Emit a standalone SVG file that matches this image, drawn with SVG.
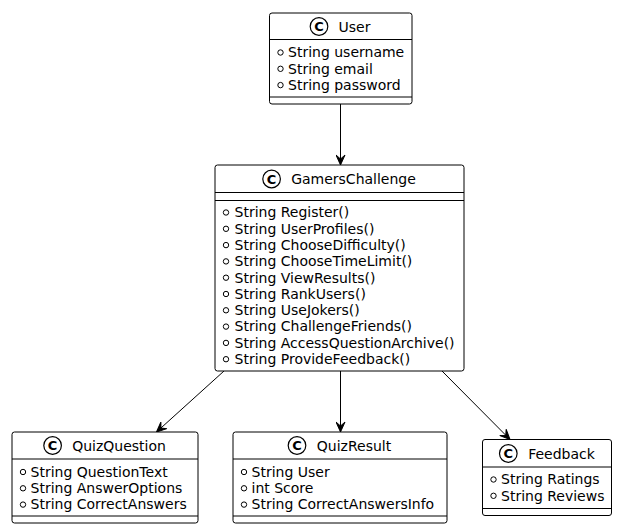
<svg xmlns="http://www.w3.org/2000/svg" width="618" height="530" viewBox="0 0 618 530">
<style>
text{font-family:"DejaVu Sans",sans-serif;font-size:14px;fill:#000}
.box{fill:#fff;stroke:#000;stroke-width:1}
.sep{stroke:#000;stroke-width:1}
.name{text-anchor:middle}
.ic{fill:#fff;stroke:#000;stroke-width:1.2}
.ict{font-size:13px;font-weight:bold;text-anchor:middle}
.vis{fill:none;stroke:#000;stroke-width:1}
.edge{stroke:#000;stroke-width:1;fill:none}
</style>
<defs>
<marker id="ah" viewBox="-11 -5 12 10" refX="0" refY="0" markerWidth="12" markerHeight="10" markerUnits="userSpaceOnUse" orient="auto">
<path d="M0,0 L-10,-4.5 L-6,0 L-10,4.5 Z" fill="#000" stroke="#000" stroke-width="1"/>
</marker>
</defs>
<g id="connectors">
<line class="edge" x1="340.5" y1="104" x2="340.5" y2="165" marker-end="url(#ah)"/>
<line class="edge" x1="224" y1="371" x2="156.5" y2="432" marker-end="url(#ah)"/>
<line class="edge" x1="340.5" y1="371" x2="340.5" y2="432" marker-end="url(#ah)"/>
<line class="edge" x1="442" y1="371" x2="510" y2="439.5" marker-end="url(#ah)"/>
</g>
<g id="User">
<rect class="box" x="269.5" y="13" width="142.5" height="91" rx="2.5"/>
<line class="sep" x1="269.5" y1="39.5" x2="412" y2="39.5"/>
<line class="sep" x1="269.5" y1="97" x2="412" y2="97"/>
<circle class="ic" cx="319" cy="26.5" r="8.8"/>
<text class="ict" x="319" y="31.2">C</text>
<text class="name" x="354.5" y="31.5">User</text>
<circle class="vis" cx="280.5" cy="52.5" r="2.7"/>
<text x="288" y="57.3">String username</text>
<circle class="vis" cx="280.5" cy="68.8" r="2.7"/>
<text x="288" y="73.6">String email</text>
<circle class="vis" cx="280.5" cy="85.1" r="2.7"/>
<text x="288" y="89.9">String password</text>
</g>
<g id="GamersChallenge">
<rect class="box" x="215" y="165" width="249" height="206" rx="2.5"/>
<line class="sep" x1="215" y1="192.5" x2="464" y2="192.5"/>
<line class="sep" x1="215" y1="200.5" x2="464" y2="200.5"/>
<circle class="ic" cx="271.6" cy="179" r="8.8"/>
<text class="ict" x="271.6" y="183.7">C</text>
<text class="name" x="353.5" y="184">GamersChallenge</text>
<g>
<circle class="vis" cx="226" cy="212.5" r="2.7"/><text x="234.5" y="217.3">String Register()</text>
<circle class="vis" cx="226" cy="228.8" r="2.7"/><text x="234.5" y="233.6">String UserProfiles()</text>
<circle class="vis" cx="226" cy="245.1" r="2.7"/><text x="234.5" y="249.9">String ChooseDifficulty()</text>
<circle class="vis" cx="226" cy="261.4" r="2.7"/><text x="234.5" y="266.2">String ChooseTimeLimit()</text>
<circle class="vis" cx="226" cy="277.7" r="2.7"/><text x="234.5" y="282.5">String ViewResults()</text>
<circle class="vis" cx="226" cy="294" r="2.7"/><text x="234.5" y="298.8">String RankUsers()</text>
<circle class="vis" cx="226" cy="310.3" r="2.7"/><text x="234.5" y="315.1">String UseJokers()</text>
<circle class="vis" cx="226" cy="326.6" r="2.7"/><text x="234.5" y="331.4">String ChallengeFriends()</text>
<circle class="vis" cx="226" cy="342.9" r="2.7"/><text x="234.5" y="347.7">String AccessQuestionArchive()</text>
<circle class="vis" cx="226" cy="359.2" r="2.7"/><text x="234.5" y="364">String ProvideFeedback()</text>
</g>
</g>
<g id="QuizQuestion">
<rect class="box" x="12" y="432" width="186" height="91" rx="2.5"/>
<line class="sep" x1="12" y1="459" x2="198" y2="459"/>
<line class="sep" x1="12" y1="516" x2="198" y2="516"/>
<circle class="ic" cx="52.6" cy="445.5" r="8.8"/>
<text class="ict" x="52.6" y="450.2">C</text>
<text class="name" x="119" y="450.5">QuizQuestion</text>
<circle class="vis" cx="23" cy="472" r="2.7"/><text x="30.5" y="476.7">String QuestionText</text>
<circle class="vis" cx="23" cy="488.3" r="2.7"/><text x="30.5" y="493">String AnswerOptions</text>
<circle class="vis" cx="23" cy="504.6" r="2.7"/><text x="30.5" y="509.3">String CorrectAnswers</text>
</g>
<g id="QuizResult">
<rect class="box" x="233" y="432" width="214" height="91" rx="2.5"/>
<line class="sep" x1="233" y1="459" x2="447" y2="459"/>
<line class="sep" x1="233" y1="516" x2="447" y2="516"/>
<circle class="ic" cx="297" cy="445.5" r="8.8"/>
<text class="ict" x="297" y="450.2">C</text>
<text class="name" x="354" y="450.5">QuizResult</text>
<circle class="vis" cx="244" cy="472" r="2.7"/><text x="251.5" y="476.7">String User</text>
<circle class="vis" cx="244" cy="488.3" r="2.7"/><text x="251.5" y="493">int Score</text>
<circle class="vis" cx="244" cy="504.6" r="2.7"/><text x="251.5" y="509.3">String CorrectAnswersInfo</text>
</g>
<g id="Feedback">
<rect class="box" x="482.5" y="439.5" width="129" height="76" rx="2.5"/>
<line class="sep" x1="482.5" y1="467" x2="611.5" y2="467"/>
<line class="sep" x1="482.5" y1="508.5" x2="611.5" y2="508.5"/>
<circle class="ic" cx="508.3" cy="453.5" r="8.8"/>
<text class="ict" x="508.3" y="458.2">C</text>
<text class="name" x="561.5" y="458.5">Feedback</text>
<circle class="vis" cx="493.5" cy="479.5" r="2.7"/><text x="501" y="484.3">String Ratings</text>
<circle class="vis" cx="493.5" cy="495.8" r="2.7"/><text x="501" y="500.6">String Reviews</text>
</g>
</svg>
